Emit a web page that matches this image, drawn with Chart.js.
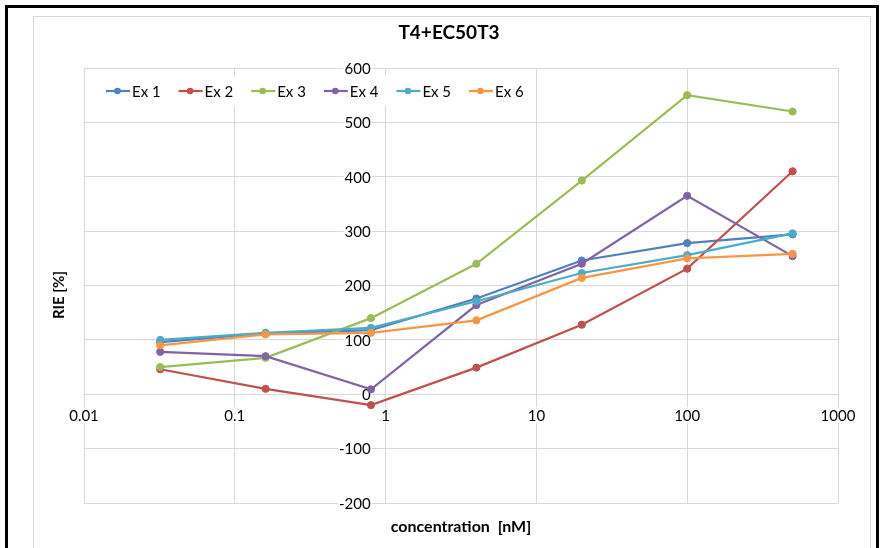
<!DOCTYPE html>
<html>
<head>
<meta charset="utf-8">
<script src="https://cdn.jsdelivr.net/npm/chart.js@4/dist/chart.umd.min.js"></script>
<style>
  html, body { margin: 0; padding: 0; background: #fff; }
  #wrap { position: relative; width: 881px; height: 548px; overflow: hidden; }
  #frame { position: absolute; left: 5px; top: 5px; width: 874px; height: 600px; border: 3px solid #000; box-sizing: border-box; }
  #panel { position: absolute; left: 33px; top: 16px; width: 838px; height: 600px; border: 1px solid #d9d9d9; box-sizing: border-box; }
  canvas { position: absolute; left: 0; top: 0; }
</style>
</head>
<body>
<div id="wrap">
  <div id="frame"></div>
  <div id="panel"></div>
  <canvas id="chart" width="881" height="548"></canvas>
</div>
<script>
// Concentrations (nM) and relative induction (%) for each experiment
const concentrations = [0.032, 0.16, 0.8, 4, 20, 100, 500];
const ex1 = [96, 112, 118, 176, 246, 278, 294];
const ex2 = [46, 10, -20, 49, 128, 231, 410];
const ex3 = [50, 67, 140, 240, 393, 550, 520];
const ex4 = [78, 70, 9, 164, 240, 365, 254];
const ex5 = [100, 113, 122, 171, 223, 256, 296];
const ex6 = [90, 110, 113, 136, 214, 250, 258];

const seriesNames = ['Ex 1', 'Ex 2', 'Ex 3', 'Ex 4', 'Ex 5', 'Ex 6'];
const seriesValues = [ex1, ex2, ex3, ex4, ex5, ex6];
const seriesColors = ['#4F81BD', '#C0504D', '#9BBB59', '#8064A2', '#4BACC6', '#F79646'];

const xTickValues = [0.01, 0.1, 1, 10, 100, 1000];
const xTickLabels = ['0.01', '0.1', '1', '10', '100', '1000'];
const yTickValues = [-200, -100, 0, 100, 200, 300, 400, 500, 600];

const chartTitle = 'T4+EC50T3';
const xTitle = 'concentration  [nM]';
const yTitle = 'RIE [%]';

const FONT = 'Lato, "Open Sans", "Liberation Sans", sans-serif';
const TEXT = '#000';

const datasets = seriesNames.map((name, i) => ({
  label: name,
  data: concentrations.map((c, j) => ({ x: c, y: seriesValues[i][j] })),
  showLine: true,
  borderColor: seriesColors[i],
  backgroundColor: seriesColors[i],
  pointBackgroundColor: seriesColors[i],
  pointBorderColor: seriesColors[i],
  borderWidth: 2.2,
  pointRadius: 3.6,
  pointBorderWidth: 1,
  tension: 0,
  order: seriesNames.length - i   // later series sit on top
}));

// Labels, legend and titles sitting inside the plot, like a spreadsheet chart
const annotations = {
  id: 'annotations',
  beforeDatasetsDraw(chart) {
    const ctx = chart.ctx;
    const xs = chart.scales.x, ys = chart.scales.y;
    ctx.save();

    // legend box
    const lx0 = 106, pitch = 72.6, ly = 91;
    ctx.fillStyle = '#fff';
    ctx.fillRect(lx0 - 10, ly - 15, pitch * seriesNames.length + 4, 30);
    ctx.font = '15px ' + FONT;
    ctx.textBaseline = 'middle';
    ctx.textAlign = 'left';
    chart.data.datasets.forEach((ds, i) => {
      const x = lx0 + i * pitch;
      ctx.strokeStyle = ds.borderColor;
      ctx.lineWidth = 2.2;
      ctx.beginPath();
      ctx.moveTo(x, ly);
      ctx.lineTo(x + 24, ly);
      ctx.stroke();
      ctx.fillStyle = ds.borderColor;
      ctx.beginPath();
      ctx.arc(x + 11.5, ly, 3.3, 0, Math.PI * 2);
      ctx.fill();
      ctx.fillStyle = TEXT;
      ctx.fillText(ds.label, x + 26, ly + 1);
    });

    // value axis labels, drawn next to the x = 1 line
    const axisX = xs.getPixelForValue(1);
    ctx.textAlign = 'right';
    yTickValues.forEach(v => {
      const y = ys.getPixelForValue(v);
      const t = String(v);
      const w = ctx.measureText(t).width;
      ctx.fillStyle = '#fff';
      ctx.fillRect(axisX - 15 - w - 1, y - 8, w + 2, 16);
      ctx.fillStyle = TEXT;
      ctx.fillText(t, axisX - 15, y + 1);
    });

    // concentration labels, drawn under the y = 0 line
    const axisY = ys.getPixelForValue(0);
    ctx.textAlign = 'center';
    xTickValues.forEach((v, i) => {
      const x = xs.getPixelForValue(v);
      const t = xTickLabels[i];
      const w = ctx.measureText(t).width;
      ctx.fillStyle = '#fff';
      ctx.fillRect(x - w / 2 - 1, axisY + 13, w + 2, 16);
      ctx.fillStyle = TEXT;
      ctx.fillText(t, x, axisY + 22);
    });

    // titles
    ctx.fillStyle = TEXT;
    ctx.font = 'bold 19px ' + FONT;
    ctx.fillText(chartTitle, 449, 33);
    ctx.font = 'bold 16px ' + FONT;
    ctx.fillText(xTitle, (chart.chartArea.left + chart.chartArea.right) / 2, 527);
    ctx.save();
    ctx.translate(59, 295);
    ctx.rotate(-Math.PI / 2);
    ctx.font = 'bold 15px ' + FONT;
    ctx.fillText(yTitle, 0, 0);
    ctx.restore();

    ctx.restore();
  }
};

new Chart(document.getElementById('chart'), {
  type: 'scatter',
  data: { datasets },
  options: {
    responsive: false,
    animation: false,
    devicePixelRatio: 1,
    layout: { padding: { left: 84, right: 43, top: 68, bottom: 45 } },
    plugins: {
      legend: { display: false },
      title: { display: false },
      tooltip: { enabled: false }
    },
    scales: {
      x: {
        type: 'logarithmic',
        min: 0.01,
        max: 1000,
        afterBuildTicks: s => { s.ticks = xTickValues.map(v => ({ value: v })); },
        ticks: { display: false },
        grid: { color: '#d9d9d9', lineWidth: 1, drawTicks: false },
        border: { display: false }
      },
      y: {
        type: 'linear',
        min: -200,
        max: 600,
        afterBuildTicks: s => { s.ticks = yTickValues.map(v => ({ value: v })); },
        ticks: { display: false },
        grid: { color: '#d9d9d9', lineWidth: 1, drawTicks: false },
        border: { display: false }
      }
    }
  },
  plugins: [annotations]
});
</script>
</body>
</html>
